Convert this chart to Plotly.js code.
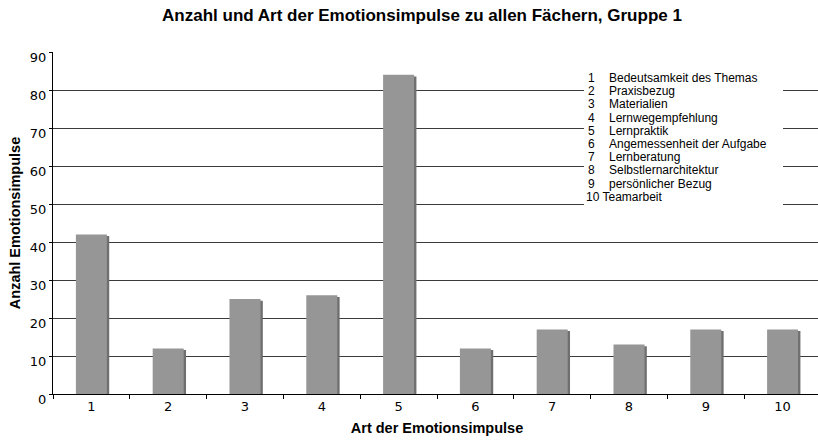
<!DOCTYPE html>
<html>
<head>
<meta charset="utf-8">
<script src="https://cdn.plot.ly/plotly-3.0.1.min.js"></script>
<style>
  html, body { margin: 0; padding: 0; overflow: hidden; background: #fff; }
  #chart { width: 822px; height: 440px; }
</style>
</head>
<body>
<div id="chart"></div>
<script>
// Art der Emotionsimpulse (Kategorien 1..10)
var categories = ["1", "2", "3", "4", "5", "6", "7", "8", "9", "10"];
var counts = [42, 12, 25, 26, 84, 12, 17, 13, 17, 17];
var labelNames = [
	"Bedeutsamkeit des Themas",
	"Praxisbezug",
	"Materialien",
	"Lernwegempfehlung",
	"Lernpraktik",
	"Angemessenheit der Aufgabe",
	"Lernberatung",
	"Selbstlernarchitektur",
	"persönlicher Bezug",
	"Teamarbeit"
];
var yTicks = [0, 10, 20, 30, 40, 50, 60, 70, 80, 90];

var barWidth = 0.404;

// the little dark edge on the right of each bar
var shadow = {
	type: "bar", x: categories,
	y: counts.map(function(v){ return v - 0.45; }),
	width: barWidth, offset: -barWidth/2 + 0.03,
	marker: {color: "#6f6f6f", line: {width: 0}},
	hoverinfo: "skip", showlegend: false
};

var bars = {
	type: "bar", x: categories, y: counts,
	width: barWidth, offset: -barWidth/2,
	marker: {color: "#969696", line: {width: 0}},
	showlegend: false
};

// the key in the upper right, drawn as text on a white box
var keyFont = {family: "Liberation Sans, Arial", size: 12, color: "#000"};
var annotations = [];
var rowY0 = (394 - 78) / 342;
var rowStep = 13.2 / 342;
function keyText(x, y, txt){
	return {
		xref: "paper", yref: "paper", x: x, y: y,
		xanchor: "left", yanchor: "middle", showarrow: false,
		borderpad: 0, text: txt, font: keyFont
	};
}
for (let i = 0; i < labelNames.length; i++){
	var y = rowY0 - i*rowStep;
	if (categories[i].length > 1){
		// two digit number: number and text just separated by a space
		annotations.push(keyText((585 - 53)/768, y, categories[i] + " " + labelNames[i]));
		continue;
	}
	annotations.push(keyText((587 - 53)/768, y, categories[i]));
	annotations.push(keyText((608 - 53)/768, y, labelNames[i]));
}

var layout = {
	width: 822, height: 440,
	margin: {l: 53, r: 1, t: 52, b: 46},
	paper_bgcolor: "#fff", plot_bgcolor: "#fff",
	barmode: "overlay",
	title: {
		text: "<b>Anzahl und Art der Emotionsimpulse zu allen Fächern, Gruppe 1</b>",
		font: {family: "Liberation Sans, Arial", size: 17, color: "#000"},
		x: 422/822, xanchor: "center", xref: "container",
		y: 1 - 15/440, yanchor: "middle", yref: "container"
	},
	font: {family: "DejaVu Sans, Verdana", size: 13, color: "#000"},
	xaxis: {
		type: "category",
		showgrid: false, zeroline: false,
		showline: true, linecolor: "#000", linewidth: 1,
		ticks: "outside", tickson: "boundaries", ticklen: 4, tickcolor: "#000",
		tickfont: {family: "DejaVu Sans, Verdana", size: 13},
		title: {text: "<b>Art der Emotionsimpulse</b>", standoff: 10,
			font: {family: "Liberation Sans, Arial", size: 14.5, color: "#000"}}
	},
	yaxis: {
		range: [0, 90], tickvals: yTicks,
		showgrid: true, gridcolor: "#3a3a3a", gridwidth: 1,
		zeroline: false,
		showline: true, linecolor: "#000", linewidth: 1,
		ticks: "outside", ticklen: 3, tickcolor: "#000",
		ticklabelshift: 5,
		tickfont: {family: "DejaVu Sans, Verdana", size: 13},
		title: {text: "<b>Anzahl Emotionsimpulse</b>", standoff: 5,
			font: {family: "Liberation Sans, Arial", size: 14.5, color: "#000"}}
	},
	shapes: [{
		type: "rect", xref: "paper", yref: "paper", layer: "above",
		x0: (584 - 53)/768, x1: (783 - 53)/768,
		y0: (394 - 207)/342, y1: (394 - 70)/342,
		fillcolor: "#fff", line: {width: 0}
	}],
	annotations: annotations
};

Plotly.newPlot("chart", [shadow, bars], layout, {displayModeBar: false, staticPlot: true});
</script>
</body>
</html>
